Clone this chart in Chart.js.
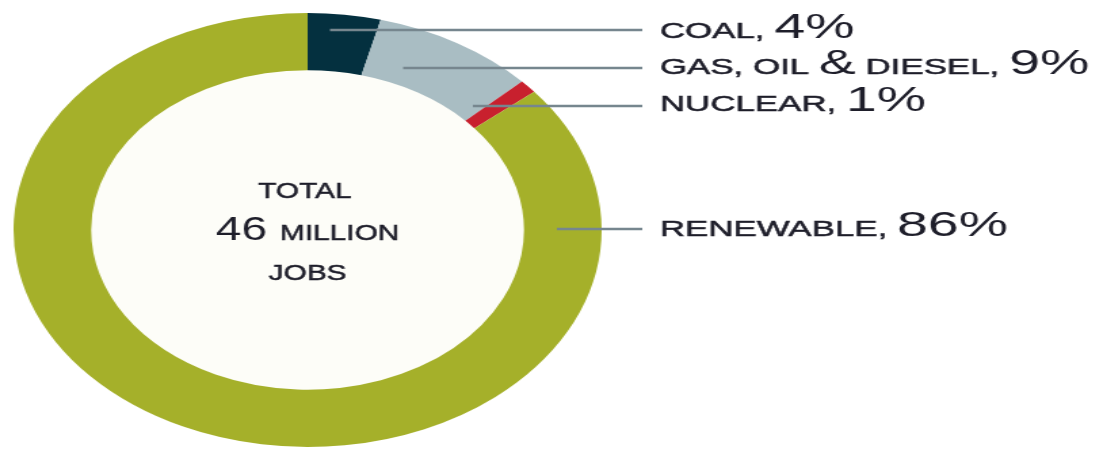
<!DOCTYPE html>
<html>
<head>
<meta charset="utf-8">
<script src="https://cdn.jsdelivr.net/npm/chart.js@4/dist/chart.umd.min.js"></script>
<style>
  html, body { margin: 0; padding: 0; background: #ffffff; overflow: hidden; }
  /* the whole figure is drawn narrow and then widened, giving the oval ring */
  #wrap {
    position: absolute; left: 0; top: 0;
    width: 812px; height: 449px;
    transform: scaleX(1.355); transform-origin: 0 0;
  }
</style>
</head>
<body>
<div id="wrap"><canvas id="jobs" width="812" height="449"></canvas></div>
<script>
const categories = ["COAL", "GAS, OIL & DIESEL", "NUCLEAR", "RENEWABLE"];
const shares = [4, 9, 1, 86];
const totalJobs = 46;
const sliceColors = ["#04303f", "#a9bdc3", "#c8202e", "#a5b02a"];

// leader lines (y, start x, end x) and label baselines, in unstretched px
const leaderY = [30, 68, 106, 229];
const leaderStartX = [243.5, 297.5, 349, 411];
const leaderEndX = 474;
const labelX = 487;
const labelBaseY = [38, 74, 111, 236];

const TEXT = "#1e1e2a";
const FONT = "'Liberation Sans', Arial, sans-serif";
const SMALL = 22;
const BIG = 35;
const LABEL_WIDEN = 1.17;

// small caps get a hairline stroke so they read a touch heavier
function ink(ctx, str, x, y, heavy) {
  ctx.fillText(str, x, y);
  if (heavy) ctx.strokeText(str, x, y);
}

function drawLabel(ctx, name, value, x, y) {
  ctx.save();
  ctx.translate(x, y);
  ctx.scale(LABEL_WIDEN, 1);
  ctx.textBaseline = "alphabetic";
  ctx.textAlign = "left";
  ctx.fillStyle = TEXT;
  ctx.strokeStyle = TEXT;
  ctx.lineWidth = 0.5;
  // "&" and the percentage are set large, the rest in small caps size
  const parts = name.split(/(&)/).filter((p) => p.length);
  parts.push(",");
  parts.push(" ");
  parts.push(value + "%");
  let cx = 0;
  parts.forEach((p) => {
    const big = p === "&" || /%$/.test(p);
    ctx.font = (big ? BIG : SMALL) + "px " + FONT;
    ink(ctx, p, cx, 0, !big);
    cx += ctx.measureText(p).width;
  });
  ctx.restore();
}

const ringExtras = {
  id: "ringExtras",
  beforeDatasetsDraw(chart) {
    const arc = chart.getDatasetMeta(0).data[0];
    if (!arc) return;
    const ctx = chart.ctx;
    ctx.save();
    ctx.fillStyle = "#fdfdf8";
    ctx.beginPath();
    ctx.arc(arc.x, arc.y, arc.innerRadius + 1, 0, Math.PI * 2);
    ctx.fill();
    ctx.restore();
  },
  afterDraw(chart) {
    const ctx = chart.ctx;
    const arc = chart.getDatasetMeta(0).data[0];

    ctx.save();
    ctx.strokeStyle = "#76868e";
    ctx.lineWidth = 2.5;
    categories.forEach((c, i) => {
      ctx.beginPath();
      ctx.moveTo(leaderStartX[i], leaderY[i]);
      ctx.lineTo(leaderEndX, leaderY[i]);
      ctx.stroke();
    });
    ctx.restore();

    categories.forEach((c, i) => drawLabel(ctx, c, shares[i], labelX, labelBaseY[i]));

    // centre caption
    const cx = arc.x;
    ctx.save();
    ctx.fillStyle = TEXT;
    ctx.strokeStyle = TEXT;
    ctx.lineWidth = 0.5;
    ctx.textBaseline = "alphabetic";
    ctx.textAlign = "center";
    ctx.font = SMALL + "px " + FONT;
    ink(ctx, "TOTAL", cx - 2, 198, true);
    ink(ctx, "JOBS", cx, 280, true);
    ctx.textAlign = "left";
    ctx.font = "34px " + FONT;
    const num = String(totalJobs) + " ";
    const wNum = ctx.measureText(num).width;
    ctx.font = SMALL + "px " + FONT;
    const wWord = ctx.measureText("MILLION").width;
    const x0 = cx - (wNum + wWord) / 2;
    ctx.font = "34px " + FONT;
    ink(ctx, num, x0, 240, false);
    ctx.font = SMALL + "px " + FONT;
    ink(ctx, "MILLION", x0 + wNum, 240, true);
    ctx.restore();
  },
};

new Chart(document.getElementById("jobs"), {
  type: "doughnut",
  data: {
    labels: categories,
    datasets: [{
      data: shares,
      backgroundColor: sliceColors,
      borderWidth: 0,
    }],
  },
  options: {
    responsive: false,
    animation: false,
    cutout: "73.6%",
    layout: { padding: { left: 10, top: 13, right: 368, bottom: 2 } },
    plugins: {
      legend: { display: false },
      tooltip: { enabled: false },
    },
  },
  plugins: [ringExtras],
});
</script>
</body>
</html>
